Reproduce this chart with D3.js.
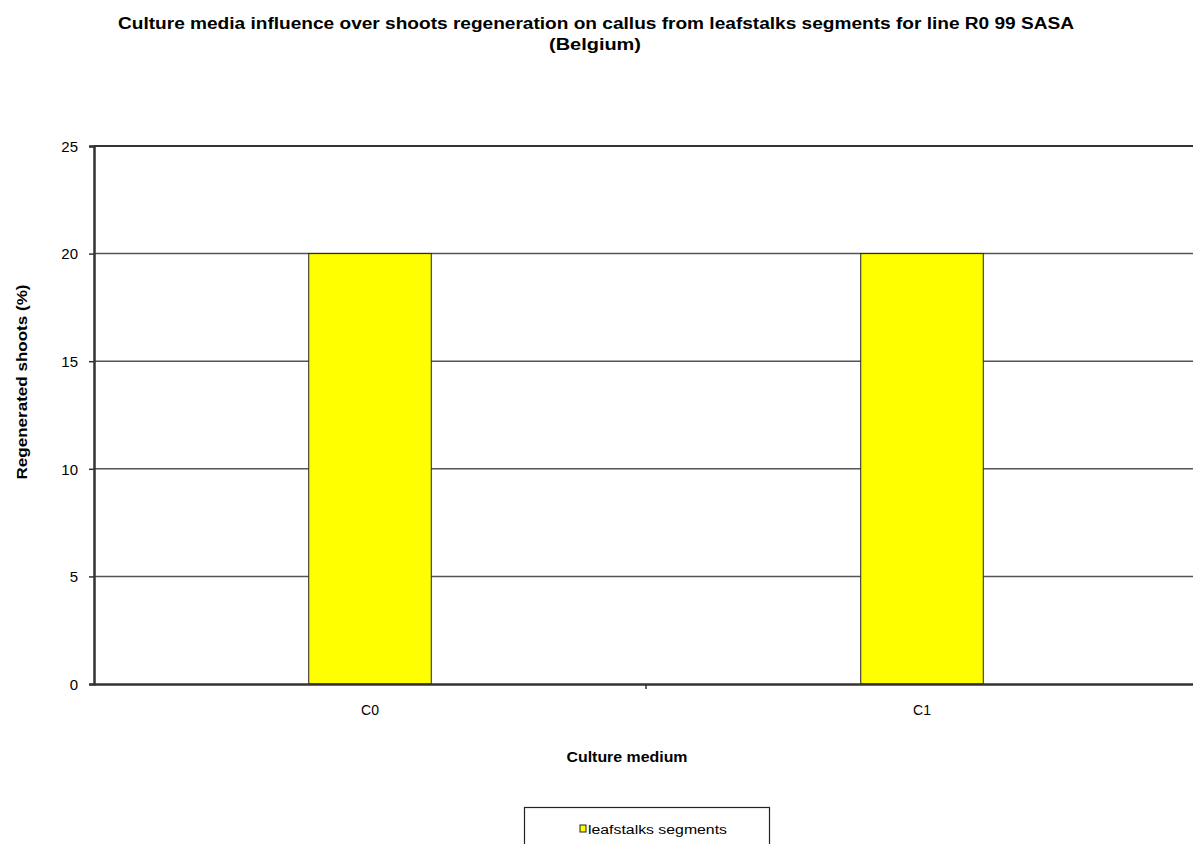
<!DOCTYPE html>
<html><head><meta charset="utf-8">
<script src="https://cdn.jsdelivr.net/npm/d3@7"></script>
<style>body{margin:0;background:#fff;}svg{display:block;font-family:"Liberation Sans",Arial,sans-serif;}</style>
</head><body>
<svg id="c" width="1193" height="844"></svg>
<script>
const categories = ["C0", "C1"];
const values = [20, 20];
const yTicks = [0, 5, 10, 15, 20, 25];
const seriesName = "leafstalks segments";
const titleLines = ["Culture media influence over shoots regeneration on callus from leafstalks segments for line  R0 99 SASA", "(Belgium)"];

const svg = d3.select("#c");
const m = {left: 94, top: 146, right: 1198, bottom: 684};
const x = d3.scaleBand().domain(categories).range([m.left, m.right]).paddingInner(0).paddingOuter(0);
const y = d3.scaleLinear().domain([0, 25]).range([m.bottom, m.top]);

// gridlines
svg.append("g").selectAll("line").data(yTicks.filter(d => d > 0)).join("line")
  .attr("x1", m.left).attr("x2", m.right).attr("y1", d => y(d)).attr("y2", d => y(d))
  .attr("stroke", d => d === 25 ? "#333" : "#555").attr("stroke-width", d => d === 25 ? 2 : 1.5);

// bars
const bw = x.bandwidth() * 0.222;
svg.append("g").selectAll("rect").data(categories).join("rect")
  .attr("x", (d) => x(d) + x.bandwidth() / 2 - bw / 2)
  .attr("y", (d, i) => y(values[i]))
  .attr("width", bw)
  .attr("height", (d, i) => y(0) - y(values[i]))
  .attr("fill", "#ffff00").attr("stroke", "#222").attr("stroke-width", 1);

// y axis
const ya = svg.append("g").attr("transform", `translate(${m.left},0)`)
  .call(d3.axisLeft(y).tickValues(yTicks).tickSize(5).tickPadding(11));
ya.select(".domain").attr("stroke", "#333").attr("stroke-width", 2.5);
ya.selectAll(".tick line").attr("stroke", "#333").attr("stroke-width", 1.5);
ya.selectAll("text").attr("font-size", 15).attr("fill", "#000").attr("font-family", "Liberation Sans, Arial")
  .attr("dy", "0.35em");

// x axis
const xa = svg.append("g").attr("transform", `translate(0,${m.bottom})`)
  .call(d3.axisBottom(x).tickSize(0).tickPadding(21));
xa.select(".domain").attr("stroke", "#333").attr("stroke-width", 2.5);
xa.selectAll("text").attr("font-size", 14).attr("fill", "#000").attr("font-family", "Liberation Sans, Arial");
// category separator ticks
const seps = categories.slice(1).map(c => x(c));
svg.append("g").selectAll("line").data(seps).join("line")
  .attr("x1", d => d).attr("x2", d => d).attr("y1", m.bottom).attr("y2", m.bottom + 5)
  .attr("stroke", "#333").attr("stroke-width", 1.5);

// title
svg.append("text").attr("x", 596).attr("y", 29).attr("text-anchor", "middle")
  .attr("font-size", 16).attr("font-weight", "bold")
  .attr("textLength", 956).attr("lengthAdjust", "spacingAndGlyphs").text(titleLines[0]);
svg.append("text").attr("x", 595).attr("y", 50).attr("text-anchor", "middle")
  .attr("font-size", 16).attr("font-weight", "bold")
  .attr("textLength", 92).attr("lengthAdjust", "spacingAndGlyphs").text(titleLines[1]);

// axis titles
svg.append("text").attr("transform", "translate(27,382) rotate(-90)").attr("text-anchor", "middle")
  .attr("font-size", 14).attr("font-weight", "bold")
  .attr("textLength", 195).attr("lengthAdjust", "spacingAndGlyphs")
  .text("Regenerated shoots (%)");
svg.append("text").attr("x", 627).attr("y", 762).attr("text-anchor", "middle")
  .attr("font-size", 14).attr("font-weight", "bold")
  .attr("textLength", 121).attr("lengthAdjust", "spacingAndGlyphs").text("Culture medium");

// legend
svg.append("rect").attr("x", 524.5).attr("y", 807.5).attr("width", 245).attr("height", 45)
  .attr("fill", "#fff").attr("stroke", "#222").attr("stroke-width", 1.2);
svg.append("rect").attr("x", 580).attr("y", 825).attr("width", 6).attr("height", 7)
  .attr("fill", "#ffff00").attr("stroke", "#222").attr("stroke-width", 1);
svg.append("text").attr("x", 588).attr("y", 834).attr("font-size", 12)
  .attr("textLength", 139).attr("lengthAdjust", "spacingAndGlyphs").text(seriesName);
</script>
</body></html>
